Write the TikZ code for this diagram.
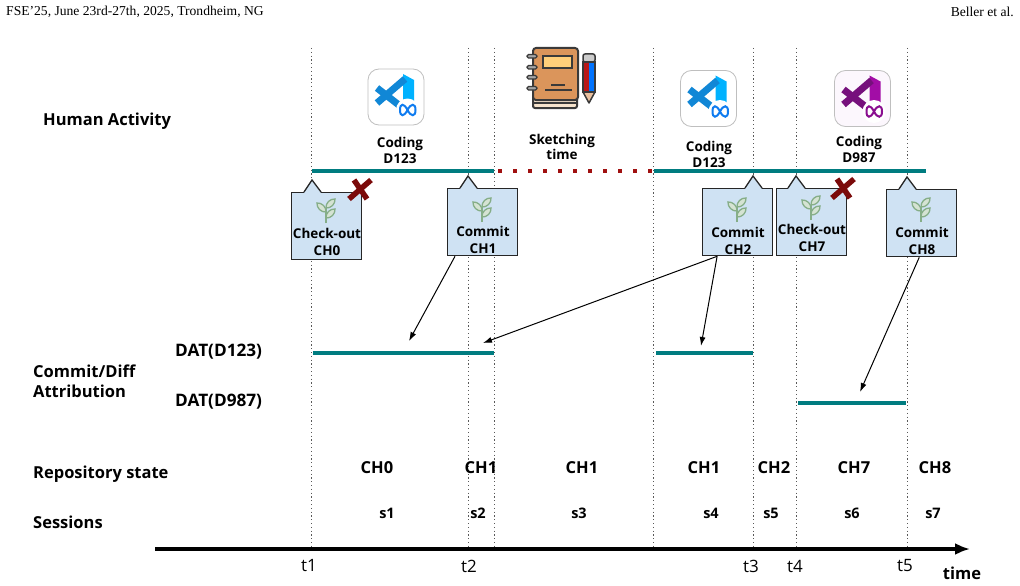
\documentclass[tikz,border=0pt]{standalone}
\usepackage{xcolor}
\usepackage{fontspec}
\setmainfont{Open Sans}
\newfontfamily\headfont{Liberation Serif}
\usetikzlibrary{arrows.meta,positioning}
\definecolor{barteal}{HTML}{007C80}
\definecolor{sketchred}{HTML}{A01010}
\definecolor{boxblue}{HTML}{CFE2F3}
\definecolor{crossred}{HTML}{7B0A0A}
\definecolor{sproutgreen}{HTML}{86AE88}
\definecolor{sproutfill}{HTML}{D5E3D3}
\definecolor{coverbrown}{HTML}{DB955B}
\definecolor{labelyellow}{HTML}{FFCF7A}
\definecolor{pagecream}{HTML}{F6E3CC}
\definecolor{inkdark}{HTML}{3A3A3A}
\definecolor{bladeblue}{HTML}{00B2FF}
\definecolor{bandblue}{HTML}{1187D6}
\definecolor{metablue}{HTML}{0F7CF0}
\definecolor{bladepurple}{HTML}{A20DA6}
\definecolor{bandpurple}{HTML}{76107C}
\definecolor{metapurple}{HTML}{8A0E90}
\definecolor{iconpale}{HTML}{FCF7FD}
\tikzset{
    lab/.style={font=\fontsize{16.5}{20}\selectfont\bfseries,inner sep=0pt,align=center},
    smalllab/.style={font=\fontsize{13.5}{15.5}\selectfont\bfseries,inner sep=0pt,align=center},
    boxlab/.style={font=\fontsize{13.5}{16.5}\selectfont\bfseries,inner sep=0pt,align=center},
    statelab/.style={font=\fontsize{16.5}{18}\selectfont\bfseries,inner sep=0pt},
    datlab/.style={font=\fontsize{17.2}{19}\selectfont\bfseries,inner sep=0pt},
    sesslab/.style={font=\fontsize{14.5}{16}\selectfont\bfseries,inner sep=0pt},
    ticklab/.style={font=\fontsize{17}{19}\selectfont,inner sep=0pt},
    headlab/.style={font=\fontsize{13.6}{15}\selectfont\headfont,inner sep=0pt},
    bar/.style={barteal,line width=3.6pt},
    guide/.style={black!65,line width=1pt,dash pattern=on 1.2pt off 2.6pt},
    tipbox/.style={draw=black!85,line width=1.3pt,fill=boxblue,minimum width=70pt,minimum height=67pt,inner sep=0pt,anchor=north west},
    attr/.style={black,line width=1pt,-{Latex[length=9pt,width=6pt]}},
    pics/sprout/.style={code={
        \draw[sproutgreen,line width=1.2pt] (0,0) -- (0,-15);
        \draw[sproutgreen,fill=sproutfill,line width=1.3pt] (0,-15) to[bend left=50] (9,-24) to[bend left=50] cycle;
        \draw[sproutgreen,fill=sproutfill,line width=1.3pt] (0,-11) to[bend right=50] (-9,-20) to[bend right=50] cycle;
        \draw[sproutgreen,fill=sproutfill,line width=1.3pt] (0,-5) to[bend left=50] (9,-14) to[bend left=50] cycle;
    }},
    pics/crossmark/.style={code={
        \draw[crossred,line width=5.5pt] (-11,10) -- (11,-9);
        \draw[crossred,line width=5.5pt] (-6,-9) -- (7,10);
    }},
    pics/devicon/.style n args={4}{code={
        \draw[black!25,fill=#4,line width=0.8pt,rounded corners=11pt] (-28,-28) rectangle (28,28);
        \fill[#1] (7,-23) -- (18,-17) -- (18,12) -- (7,14) -- cycle;
        \draw[#2,line width=7pt] (9,-18) -- (-19,6);
        \draw[#2,line width=7pt] (-19,-9) -- (8,12);
        \fill[white] (11.5,13) circle (11.5);
        \draw[#3,line width=2pt] (4,13) .. controls (4,6) and (8,6) .. (11.5,13) .. controls (15,20) and (19.5,20) .. (19.5,13) .. controls (19.5,6) and (15,6) .. (11.5,13) .. controls (8,20) and (4,20) .. (4,13);
    }},
}

\begin{document}
\begin{tikzpicture}[x=1pt,y=-1pt]
    \useasboundingbox (0,0) rectangle (1020,586);
    \node[headlab,anchor=west] (conf) at (6,12) {FSE’25, June 23rd-27th, 2025, Trondheim, NG};
    \node[headlab,anchor=east] (auth) at (1014,12) {Beller et al.};

    \foreach \x in {311,468,494,653,753,796,907}
        \draw[guide] (\x,48) -- (\x,549);

    \node[lab,anchor=west] (human) at (43,121) {Human Activity};
    \node[lab,anchor=west,align=left] (attrib) at (33,381) {Commit/Diff\\Attribution};
    \node[lab,anchor=west] (repo) at (33,474) {Repository state};
    \node[lab,anchor=west] (sess) at (33,522.5) {Sessions};
    \node[datlab,anchor=west] (datone) at (175,352) {DAT(D123)};
    \node[datlab,anchor=west] (dattwo) at (175,402) {DAT(D987)};

    \pic at (396,97) {devicon={bladeblue}{bandblue}{metablue}{white}};
    \pic at (708.5,98.5) {devicon={bladeblue}{bandblue}{metablue}{white}};
    \pic at (862.5,98.5) {devicon={bladepurple}{bandpurple}{metapurple}{iconpale}};

    % notebook and pencil
    \draw[inkdark,fill=pagecream,line width=2pt,rounded corners=2pt] (533,92) rectangle (577,108);
    \draw[inkdark,line width=1.2pt] (534,103) -- (576,103);
    \draw[inkdark,fill=coverbrown,line width=2pt,rounded corners=3pt] (533,48) rectangle (578,100);
    \draw[inkdark,fill=labelyellow,line width=1.8pt] (543,56) rectangle (572,68);
    \draw[inkdark,line width=1.3pt] (551,85) -- (565,85) (545,90) -- (572,90);
    \foreach \y in {56,67,77,88}
        \draw[inkdark,fill=black!35,line width=1.2pt,rounded corners=1.5pt] (527,\y-1.5) rectangle (537,\y+2);
    \draw[inkdark,fill=black!20,line width=1.5pt,rounded corners=2pt] (583,54) rectangle (595,62);
    \fill[red!70!black!90] (583,62) rectangle (589,92);
    \fill[blue!55!cyan] (589,62) rectangle (595,92);
    \draw[inkdark,line width=1.5pt] (583,62) rectangle (595,92);
    \draw[inkdark,fill=coverbrown!60,line width=1.5pt,line join=round] (583,92) -- (589,103) -- (595,92) -- cycle;

    \node[smalllab] (codeone) at (400,150.5) {Coding\\D123};
    \node[smalllab] (sketch) at (562,147) {Sketching\\time};
    \node[smalllab] (codetwo) at (709,154.5) {Coding\\D123};
    \node[smalllab] (codethree) at (859,149.5) {Coding\\D987};

    \draw[bar] (312,171) -- (494,171);
    \draw[sketchred,line width=3.6pt,dash pattern=on 3.6pt off 11.4pt] (498,171) -- (653,171);
    \draw[bar] (654,171) -- (926,171);

    \foreach \nm/\lft/\tp/\tipx/\sy/\ty/\txt in {
        chzero/291/192/312/223/250/{Check-out\\CH0},
        chone/447/188/468/222/248/{Commit\\CH1},
        chtwo/702/188/753/222/249/{Commit\\CH2},
        chseven/776/188/796/220/246/{Check-out\\CH7},
        cheight/886/189/907/222/249/{Commit\\CH8}}{
        \node[tipbox] (\nm) at (\lft,\tp) {};
        \fill[boxblue] (\tipx-8,\tp+1) -- (\tipx,\tp-12) -- (\tipx+9,\tp+1) -- cycle;
        \draw[black!85,line width=1.3pt] (\tipx-8,\tp) -- (\tipx,\tp-12) -- (\tipx+9,\tp);
        \pic at (\lft+35,\sy) {sprout};
        \node[boxlab,anchor=center] (\nm text) at (\lft+36,\ty-8) {\txt};
    }
    \pic at (360,189) {crossmark};
    \pic at (843,188) {crossmark};

    \draw[bar] (313,352.7) -- (494,352.7);
    \draw[bar] (656,352.7) -- (753,352.7);
    \draw[bar] (798,402.7) -- (906,402.7);

    \coordinate (hitone) at (409,341);
    \coordinate (hittwo) at (483,343);
    \coordinate (hitthree) at (701,346);
    \coordinate (hitfour) at (860,392);
    \draw[attr] (chone.231.5) -- (hitone);
    \draw[attr] (chtwo.239) -- (hittwo);
    \draw[attr] (chtwo.239) -- (hitthree);
    \draw[attr] (cheight.266.6) -- (hitfour);

    \foreach \nm/\x/\txt in {rzero/377/CH0,rone/481/CH1,rtwo/582/CH1,rthree/704/CH1,rfour/774/CH2,rfive/854/CH7,rsix/935/CH8}
        \node[statelab] (\nm) at (\x,468) {\txt};
    \foreach \nm/\x/\txt in {sone/387/s1,stwo/478/s2,sthree/579/s3,sfour/711/s4,sfive/771/s5,ssix/852/s6,sseven/933/s7}
        \node[sesslab] (\nm) at (\x,513) {\txt};

    \coordinate (axisa) at (155,549);
    \coordinate (axisb) at (970,549);
    \draw[black,line width=3.2pt,-{Latex[length=15pt,width=12pt]}] (axisa) -- (axisb);
    \foreach \nm/\x/\txt in {tone/309/t1,ttwo/469/t2,tthree/751/t3,tfour/795/t4,tfive/905/t5}
        \node[ticklab] (\nm) at (\x,566) {\txt};
    \node[statelab] (time) at (962,573) {time};
\end{tikzpicture}
\end{document}
